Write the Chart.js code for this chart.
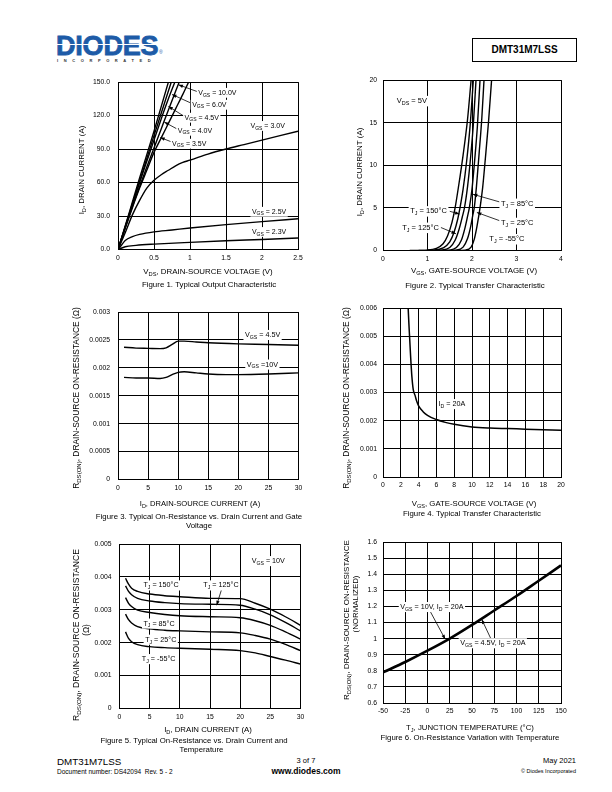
<!DOCTYPE html>
<html><head><meta charset="utf-8">
<script src="https://cdn.jsdelivr.net/npm/chart.js@4.4.1/dist/chart.umd.min.js"></script>
<style>
html,body{margin:0;padding:0;background:#fff;}
body{width:612px;height:792px;position:relative;overflow:hidden;font-family:"Liberation Sans",Arial,sans-serif;color:#000;}
.abs{position:absolute;white-space:nowrap;}
canvas{position:absolute;}
</style></head><body>

<!-- header -->
<div class="abs" style="left:56px;top:33px;font:bold 27px/27px 'Liberation Sans';color:#1d5ba7;letter-spacing:-0.2px;-webkit-text-stroke:0.8px #1d5ba7;">DIODES</div>
<div class="abs" style="left:56px;top:44px;width:104px;height:1px;background:#fff;"></div>
<div class="abs" style="left:159px;top:50px;font:5px/5px 'Liberation Sans';color:#1d5ba7;">&#174;</div>
<div class="abs" style="left:57px;top:58px;font:bold 4px/5px 'Liberation Sans';color:#333;letter-spacing:5.6px;">INCORPORATED</div>
<div class="abs" style="left:472px;top:38px;width:105px;height:24px;box-sizing:border-box;border:1px solid #000;font:bold 10px/22px 'Liberation Sans';text-align:center;">DMT31M7LSS</div>

<canvas id="c1"></canvas>
<canvas id="c2"></canvas>
<canvas id="c3"></canvas>
<canvas id="c4"></canvas>
<canvas id="c5"></canvas>
<canvas id="c6"></canvas>

<!-- footer -->
<div class="abs" style="left:57px;top:756px;font:9.8px/12px 'Liberation Sans';">DMT31M7LSS</div>
<div class="abs" style="left:57px;top:768px;font:6.5px/8px 'Liberation Sans';">Document number: DS42094&nbsp; Rev. 5 - 2</div>
<div class="abs" style="left:256px;width:100px;top:756px;text-align:center;font:7.5px/10px 'Liberation Sans';">3 of 7</div>
<div class="abs" style="left:256px;width:100px;top:766px;text-align:center;font:bold 8.5px/10px 'Liberation Sans';">www.diodes.com</div>
<div class="abs" style="left:476px;width:100px;top:756px;text-align:right;font:7.5px/10px 'Liberation Sans';">May 2021</div>
<div class="abs" style="left:476px;width:100px;top:767px;text-align:right;font:5.5px/8px 'Liberation Sans';">&#169; Diodes Incorporated</div>

<script>
// ================= DATA =================
// Figure 1: Typical Output Characteristic (x: VDS [V], y: ID [A])
const f1XTicks = [0, 0.5, 1, 1.5, 2, 2.5];
const f1XTickLabels = ['0', '0.5', '1', '1.5', '2', '2.5'];
const f1YTicks = [0, 30, 60, 90, 120, 150];
const f1YTickLabels = ['0.0', '30.0', '60.0', '90.0', '120.0', '150.0'];
const f1Vgs10X = [0, 0.1, 0.2, 0.3, 0.4, 0.5, 0.6, 0.7];
const f1Vgs10Y = [0, 21, 42.5, 64, 85, 106, 128, 150];
const f1Vgs6X = [0, 0.1, 0.2, 0.3, 0.4, 0.5, 0.6, 0.74];
const f1Vgs6Y = [0, 20.5, 41, 61, 81.5, 102, 122, 150];
const f1Vgs45X = [0, 0.1, 0.2, 0.3, 0.4, 0.5, 0.6, 0.7, 0.79];
const f1Vgs45Y = [0, 20, 40, 60, 79, 98, 117, 135, 150];
const f1Vgs4X = [0, 0.1, 0.2, 0.3, 0.4, 0.5, 0.6, 0.7, 0.85];
const f1Vgs4Y = [0, 19.5, 38.5, 56.5, 74, 91, 108, 125, 150];
const f1Vgs35X = [0, 0.1, 0.2, 0.3, 0.4, 0.5, 0.6, 0.7, 0.8, 0.9, 0.98];
const f1Vgs35Y = [0, 19, 37.5, 55, 71, 87, 100, 113, 126, 139, 150];
const f1Vgs3X = [0, 0.1, 0.2, 0.3, 0.4, 0.5, 0.6, 0.7, 0.8, 0.9, 1.0, 1.25, 1.5, 1.75, 2, 2.25, 2.5];
const f1Vgs3Y = [0, 15, 31, 44, 55, 62, 67, 71, 75, 78, 80, 85.5, 90, 94, 98, 102, 106];
const f1Vgs25X = [0, 0.05, 0.1, 0.2, 0.3, 0.5, 0.75, 1, 1.5, 2, 2.5];
const f1Vgs25Y = [0, 4, 8, 11.5, 13.5, 15.8, 17.5, 19.3, 22.3, 25, 27.5];
const f1Vgs23X = [0, 0.1, 0.25, 0.5, 1, 1.5, 2, 2.5];
const f1Vgs23Y = [0, 2.5, 3.7, 4.8, 6.4, 7.8, 9, 10.3];

// Figure 2: Typical Transfer Characteristic (x: VGS [V], y: ID [A])
const f2XTicks = [0, 1, 2, 3, 4];
const f2XTickLabels = ['0', '1', '2', '3', '4'];
const f2YTicks = [0, 5, 10, 15, 20];
const f2YTickLabels = ['0', '5', '10', '15', '20'];
const f2T150X = [0.6, 1.0, 1.2, 1.35, 1.45, 1.55, 1.62, 1.7, 1.8, 1.9, 1.98];
const f2T150Y = [0, 0.05, 0.25, 0.8, 1.7, 3.3, 5, 7.6, 11.2, 15.4, 20];
const f2T125X = [0.8, 1.15, 1.35, 1.5, 1.6, 1.68, 1.73, 1.8, 1.88, 1.96, 2.03];
const f2T125Y = [0, 0.05, 0.3, 1.0, 2.2, 3.7, 5, 7.2, 10.5, 14.8, 20];
const f2T85X = [1.0, 1.3, 1.5, 1.62, 1.71, 1.78, 1.83, 1.9, 1.97, 2.03, 2.09];
const f2T85Y = [0, 0.05, 0.35, 1.2, 2.5, 3.9, 5, 7.5, 11, 14.8, 20];
const f2T25X = [1.2, 1.5, 1.65, 1.76, 1.84, 1.9, 1.94, 2.0, 2.06, 2.12, 2.18];
const f2T25Y = [0, 0.05, 0.35, 1.2, 2.6, 4.0, 5, 7.2, 10.6, 14.5, 20];
const f2T0X = [1.4, 1.65, 1.8, 1.9, 1.97, 2.02, 2.05, 2.1, 2.16, 2.22, 2.27];
const f2T0Y = [0, 0.05, 0.4, 1.4, 2.8, 4.2, 5, 7.5, 11.4, 15.5, 20];
const f2Tm55X = [1.6, 1.85, 1.98, 2.05, 2.1, 2.15, 2.18, 2.24, 2.3, 2.37, 2.44];
const f2Tm55Y = [0, 0.05, 0.4, 1.3, 2.5, 4.0, 5, 7.4, 10.8, 15, 20];

// Figure 3: On-Resistance vs Drain Current and Gate Voltage (x: ID [A], y: RDS(ON) [ohm])
const f3XTicks = [0, 5, 10, 15, 20, 25, 30];
const f3XTickLabels = ['0', '5', '10', '15', '20', '25', '30'];
const f3YTicks = [0, 0.0005, 0.001, 0.0015, 0.002, 0.0025, 0.003];
const f3YTickLabels = ['0', '0.0005', '0.001', '0.0015', '0.002', '0.0025', '0.003'];
const f3Vgs45X = [1, 3, 5, 7, 8, 9, 10, 11, 13, 15, 20, 25, 30];
const f3Vgs45Y = [0.00237, 0.002355, 0.00235, 0.002345, 0.00236, 0.00242, 0.00248, 0.00248, 0.002465, 0.00245, 0.00243, 0.00242, 0.002405];
const f3Vgs10X = [1, 3, 5, 7, 8, 9, 10, 11, 13, 15, 18, 20, 25, 30];
const f3Vgs10Y = [0.00183, 0.00182, 0.00182, 0.00181, 0.00183, 0.00188, 0.00192, 0.00193, 0.00191, 0.00189, 0.00188, 0.00188, 0.00189, 0.00191];

// Figure 4: On-Resistance vs Gate Voltage (x: VGS [V], y: RDS(ON) [ohm])
const f4XTicks = [0, 2, 4, 6, 8, 10, 12, 14, 16, 18, 20];
const f4XTickLabels = ['0', '2', '4', '6', '8', '10', '12', '14', '16', '18', '20'];
const f4YTicks = [0, 0.001, 0.002, 0.003, 0.004, 0.005, 0.006];
const f4YTickLabels = ['0', '0.001', '0.002', '0.003', '0.004', '0.005', '0.006'];
const f4Id20X = [2.8, 2.9, 3.0, 3.1, 3.25, 3.4, 3.6, 3.8, 4.0, 4.5, 5, 6, 7, 8, 10, 12, 14, 16, 18, 20];
const f4Id20Y = [0.0062, 0.0055, 0.0049, 0.0043, 0.00355, 0.0031, 0.0029, 0.00268, 0.00253, 0.00232, 0.00219, 0.00204, 0.00194, 0.00187, 0.00178, 0.00174, 0.00172, 0.0017, 0.00168, 0.00166];

// Figure 5: On-Resistance vs Drain Current and Temperature (x: ID [A], y: RDS(ON) [ohm])
const f5XTicks = [0, 5, 10, 15, 20, 25, 30];
const f5XTickLabels = ['0', '5', '10', '15', '20', '25', '30'];
const f5YTicks = [0, 0.001, 0.002, 0.003, 0.004, 0.005];
const f5YTickLabels = ['0', '0.001', '0.002', '0.003', '0.004', '0.005'];
const f5IdX = [1, 1.5, 2, 3, 5, 7.5, 10, 15, 20, 22.5, 25, 27.5, 30];
const f5T150Y = [0.00396, 0.00378, 0.00366, 0.00356, 0.00348, 0.00343, 0.0034, 0.00335, 0.00334, 0.0032, 0.00302, 0.00279, 0.00253];
const f5T125Y = [0.00373, 0.00356, 0.00346, 0.00335, 0.00327, 0.00322, 0.00319, 0.00317, 0.00314, 0.00302, 0.00285, 0.00262, 0.00236];
const f5T85Y = [0.00337, 0.0032, 0.0031, 0.00299, 0.00292, 0.00286, 0.00282, 0.00279, 0.00276, 0.00267, 0.00253, 0.00233, 0.00211];
const f5T25Y = [0.00287, 0.0027, 0.0026, 0.00249, 0.00242, 0.00238, 0.00236, 0.00233, 0.0023, 0.00222, 0.00211, 0.00195, 0.00176];
const f5Tm55Y = [0.00233, 0.00213, 0.00203, 0.00194, 0.00188, 0.00185, 0.00183, 0.0018, 0.00176, 0.00169, 0.00158, 0.00147, 0.00135];

// Figure 6: On-Resistance Variation with Temperature (x: TJ [degC], y: normalized RDS(ON))
const f6XTicks = [-50, -25, 0, 25, 50, 75, 100, 125, 150];
const f6XTickLabels = ['-50', '-25', '0', '25', '50', '75', '100', '125', '150'];
const f6YTicks = [0.6, 0.7, 0.8, 0.9, 1.0, 1.1, 1.2, 1.3, 1.4, 1.5, 1.6];
const f6YTickLabels = ['0.6', '0.7', '0.8', '0.9', '1', '1.1', '1.2', '1.3', '1.4', '1.5', '1.6'];
const f6TempX = [-50, -25, 0, 25, 50, 75, 100, 125, 150];
const f6NormY = [0.79, 0.855, 0.925, 1.0, 1.085, 1.175, 1.265, 1.36, 1.455];

// ================= DRAWING HELPERS =================
const FONT = '"Liberation Sans", Arial, sans-serif';

function parseRich(s) {
  const parts = []; const re = /_\{([^}]*)\}/g; let last = 0, m;
  while ((m = re.exec(s))) {
    if (m.index > last) parts.push([s.slice(last, m.index), 0]);
    parts.push([m[1], 1]); last = re.lastIndex;
  }
  if (last < s.length) parts.push([s.slice(last), 0]);
  return parts;
}
function drawRich(ctx, s, x, y, size, align, bg) {
  const parts = parseRich(s);
  let w = 0;
  for (const p of parts) { ctx.font = (p[1] ? size * 0.72 : size) + 'px ' + FONT; w += ctx.measureText(p[0]).width; }
  let cx = align === 'center' ? x - w / 2 : (align === 'right' ? x - w : x);
  if (bg) { ctx.fillStyle = '#fff'; ctx.fillRect(cx - 1.5, y - size * 0.62, w + 3, size * 1.4); }
  ctx.fillStyle = '#000'; ctx.textBaseline = 'alphabetic'; ctx.textAlign = 'left';
  const base = y + size * 0.36;
  for (const p of parts) {
    const fs = p[1] ? size * 0.72 : size;
    ctx.font = fs + 'px ' + FONT;
    ctx.fillText(p[0], cx, base + (p[1] ? size * 0.25 : 0));
    cx += ctx.measureText(p[0]).width;
  }
}
function drawArrow(ctx, x0, y0, x1, y1) {
  ctx.strokeStyle = '#000'; ctx.lineWidth = 0.8;
  ctx.beginPath(); ctx.moveTo(x0, y0); ctx.lineTo(x1, y1); ctx.stroke();
  const a = Math.atan2(y1 - y0, x1 - x0), L = 4.5, W = 1.7;
  ctx.beginPath(); ctx.moveTo(x1, y1);
  ctx.lineTo(x1 - L * Math.cos(a) + W * Math.sin(a), y1 - L * Math.sin(a) - W * Math.cos(a));
  ctx.lineTo(x1 - L * Math.cos(a) - W * Math.sin(a), y1 - L * Math.sin(a) + W * Math.cos(a));
  ctx.closePath(); ctx.fillStyle = '#000'; ctx.fill();
}

const decor = {
  id: 'decor',
  afterDraw(chart, args, opts) {
    const ctx = chart.ctx, xs = chart.scales.x, ys = chart.scales.y;
    const box = opts.box;
    ctx.save();
    (opts.notes || []).forEach(n => {
      if (n.arrow) drawArrow(ctx, xs.getPixelForValue(n.arrow[0]), ys.getPixelForValue(n.arrow[1]),
        xs.getPixelForValue(n.arrow[2]), ys.getPixelForValue(n.arrow[3]));
    });
    (opts.notes || []).forEach(n => {
      drawRich(ctx, n.t, xs.getPixelForValue(n.x), ys.getPixelForValue(n.y), opts.noteSize || 7.2, n.align || 'left', n.bg !== false);
    });
    (opts.titles || []).forEach(t => {
      ctx.save();
      ctx.translate(t.x - box.l, t.y - box.t);
      if (t.rot) ctx.rotate(-Math.PI / 2);
      drawRich(ctx, t.t, 0, 0, t.size, 'center', false);
      ctx.restore();
    });
    ctx.restore();
  }
};

function series(xArr, yArr, width) {
  return {
    data: xArr.map((x, i) => ({ x: x, y: yArr[i] })),
    borderColor: '#000', borderWidth: width || 1.4, pointRadius: 0,
    cubicInterpolationMode: 'monotone', fill: false
  };
}

function build(id, box, plot, xt, xtl, yt, ytl, datasets, decorOpts) {
  const cv = document.getElementById(id);
  cv.style.left = box.l + 'px'; cv.style.top = box.t + 'px';
  cv.width = box.w; cv.height = box.h;
  cv.style.width = box.w + 'px'; cv.style.height = box.h + 'px';
  decorOpts.box = box;
  const tickFont = { family: FONT, size: 6.8 };
  new Chart(cv, {
    type: 'line',
    data: { datasets: datasets },
    options: {
      responsive: false, animation: false, devicePixelRatio: 1,
      layout: { padding: { left: 0, bottom: 0, top: plot.t - box.t, right: box.l + box.w - plot.r } },
      plugins: { legend: { display: false }, tooltip: { enabled: false }, decor: decorOpts },
      scales: {
        x: {
          type: 'linear', min: xt[0], max: xt[xt.length - 1],
          afterBuildTicks: s => { s.ticks = xt.map(v => ({ value: v })); },
          afterFit: s => { s.height = box.t + box.h - plot.b; },
          ticks: { autoSkip: false, maxRotation: 0, minRotation: 0, padding: 4.5, color: '#000', font: tickFont, callback: (v, i) => xtl[i] },
          grid: { color: '#000', lineWidth: 1, drawTicks: false },
          border: { color: '#000', width: 1 }
        },
        y: {
          type: 'linear', min: yt[0], max: yt[yt.length - 1],
          afterBuildTicks: s => { s.ticks = yt.map(v => ({ value: v })); },
          afterFit: s => { s.width = plot.l - box.l; },
          ticks: { autoSkip: false, padding: plot.tp || 7, color: '#000', font: tickFont, callback: (v, i) => ytl[i] },
          grid: { color: '#000', lineWidth: 1, drawTicks: false },
          border: { color: '#000', width: 1 }
        }
      }
    },
    plugins: [decor]
  });
}

// ================= CHARTS =================
build('c1', { l: 40, t: 70, w: 270, h: 225 }, { l: 118, t: 77, r: 298, b: 249.5, tp: 8 },
  f1XTicks, f1XTickLabels, f1YTicks, f1YTickLabels,
  [series(f1Vgs10X, f1Vgs10Y), series(f1Vgs6X, f1Vgs6Y), series(f1Vgs45X, f1Vgs45Y), series(f1Vgs4X, f1Vgs4Y),
   series(f1Vgs35X, f1Vgs35Y), series(f1Vgs3X, f1Vgs3Y), series(f1Vgs25X, f1Vgs25Y), series(f1Vgs23X, f1Vgs23Y)],
  {
    noteSize: 7,
    notes: [
      { t: 'V_{GS} = 10.0V', x: 1.115, y: 140.9, arrow: [1.1, 141.5, 0.84, 147.6] },
      { t: 'V_{GS} = 6.0V', x: 1.03, y: 130.2, arrow: [1.02, 131, 0.75, 138.9] },
      { t: 'V_{GS} = 4.5V', x: 0.925, y: 118.6, arrow: [0.915, 119.5, 0.70, 128.2] },
      { t: 'V_{GS} = 4.0V', x: 0.83, y: 106.9, arrow: [0.82, 108, 0.643, 114.2] },
      { t: 'V_{GS} = 3.5V', x: 0.75, y: 95.3, arrow: [0.74, 96.5, 0.587, 100.3] },
      { t: 'V_{GS} = 3.0V', x: 1.84, y: 111.2 },
      { t: 'V_{GS} = 2.5V', x: 1.86, y: 34.3 },
      { t: 'V_{GS} = 2.3V', x: 1.86, y: 16.2 }
    ],
    titles: [
      { t: 'I_{D}, DRAIN CURRENT (A)', x: 81, y: 170, size: 7.9, rot: true },
      { t: 'V_{DS}, DRAIN-SOURCE VOLTAGE (V)', x: 208, y: 271, size: 7.9 },
      { t: 'Figure 1. Typical Output Characteristic', x: 209, y: 284.5, size: 7.9 }
    ]
  });

build('c2', { l: 322, t: 70, w: 260, h: 225 }, { l: 383, t: 77, r: 561, b: 250.5, tp: 6 },
  f2XTicks, f2XTickLabels, f2YTicks, f2YTickLabels,
  [series(f2T150X, f2T150Y), series(f2T125X, f2T125Y), series(f2T85X, f2T85Y),
   series(f2T25X, f2T25Y), series(f2T0X, f2T0Y), series(f2Tm55X, f2Tm55Y)],
  {
    noteSize: 7.5,
    notes: [
      { t: 'V_{DS} = 5V', x: 0.31, y: 17.6 },
      { t: 'T_{J} = 150°C', x: 0.61, y: 4.66, arrow: [1.5, 4.6, 1.72, 4.28] },
      { t: 'T_{J} = 125°C', x: 0.43, y: 2.73, arrow: [1.3, 2.7, 1.64, 1.96] },
      { t: 'T_{J} = 85°C', x: 2.65, y: 5.55, arrow: [2.62, 5.7, 2.02, 6.6] },
      { t: 'T_{J} = 25°C', x: 2.65, y: 3.3, arrow: [2.62, 3.5, 2.11, 4.46] },
      { t: 'T_{J} = -55°C', x: 2.39, y: 1.39 }
    ],
    titles: [
      { t: 'I_{D}, DRAIN CURRENT (A)', x: 359.5, y: 172, size: 7.9, rot: true },
      { t: 'V_{GS}, GATE-SOURCE VOLTAGE (V)', x: 474, y: 270, size: 7.9 },
      { t: 'Figure 2. Typical Transfer Characteristic', x: 475, y: 285, size: 7.9 }
    ]
  });

build('c3', { l: 40, t: 300, w: 270, h: 232 }, { l: 118, t: 309, r: 298.5, b: 479.5, tp: 8 },
  f3XTicks, f3XTickLabels, f3YTicks, f3YTickLabels,
  [series(f3Vgs45X, f3Vgs45Y), series(f3Vgs10X, f3Vgs10Y)],
  {
    notes: [
      { t: 'V_{GS} = 4.5V', x: 21.1, y: 0.0026 },
      { t: 'V_{GS} =10V', x: 21.4, y: 0.00207 }
    ],
    titles: [
      { t: 'R_{DS(ON)}, DRAIN-SOURCE ON-RESISTANCE (Ω)', x: 76, y: 398, size: 8.4, rot: true },
      { t: 'I_{D}, DRAIN-SOURCE CURRENT (A)', x: 200, y: 503.5, size: 7.6 },
      { t: 'Figure 3. Typical On-Resistance vs. Drain Current and Gate', x: 199, y: 516, size: 7.8 },
      { t: 'Voltage', x: 199, y: 525.5, size: 7.8 }
    ]
  });

build('c4', { l: 322, t: 298, w: 260, h: 222 }, { l: 383, t: 306, r: 561, b: 477, tp: 6 },
  f4XTicks, f4XTickLabels, f4YTicks, f4YTickLabels,
  [series(f4Id20X, f4Id20Y, 1.5)],
  {
    notes: [{ t: 'I_{D} = 20A', x: 6.24, y: 0.00261 }],
    titles: [
      { t: 'R_{DS(ON)}, DRAIN-SOURCE ON-RESISTANCE (Ω)', x: 346, y: 398, size: 8.4, rot: true },
      { t: 'V_{GS}, GATE-SOURCE VOLTAGE (V)', x: 474, y: 503.5, size: 7.8 },
      { t: 'Figure 4. Typical Transfer Characteristic', x: 472, y: 513.5, size: 7.8 }
    ]
  });

build('c5', { l: 40, t: 532, w: 270, h: 222 }, { l: 119.5, t: 540, r: 300.5, b: 708.5, tp: 8 },
  f5XTicks, f5XTickLabels, f5YTicks, f5YTickLabels,
  [series(f5IdX, f5T150Y), series(f5IdX, f5T125Y), series(f5IdX, f5T85Y), series(f5IdX, f5T25Y), series(f5IdX, f5Tm55Y)],
  {
    notes: [
      { t: 'V_{GS} = 10V', x: 21.9, y: 0.0045 },
      { t: 'T_{J} = 150°C', x: 3.97, y: 0.00376 },
      { t: 'T_{J} = 125°C', x: 13.9, y: 0.00376, arrow: [16.9, 0.00361, 16.1, 0.00314] },
      { t: 'T_{J} = 85°C', x: 3.97, y: 0.0026 },
      { t: 'T_{J} = 25°C', x: 4.25, y: 0.00211 },
      { t: 'T_{J} = -55°C', x: 3.7, y: 0.00152 }
    ],
    titles: [
      { t: 'R_{DS(ON)}, DRAIN-SOURCE ON-RESISTANCE', x: 76, y: 635, size: 8.6, rot: true },
      { t: '(Ω)', x: 86, y: 630, size: 8.2, rot: true },
      { t: 'I_{D}, DRAIN CURRENT (A)', x: 208, y: 729.5, size: 7.8 },
      { t: 'Figure 5. Typical On-Resistance vs. Drain Current and', x: 194, y: 740, size: 7.8 },
      { t: 'Temperature', x: 201.5, y: 749.5, size: 7.8 }
    ]
  });

build('c6', { l: 322, t: 532, w: 260, h: 212 }, { l: 383, t: 540, r: 561, b: 703, tp: 6 },
  f6XTicks, f6XTickLabels, f6YTicks, f6YTickLabels,
  [series(f6TempX, f6NormY, 2.6)],
  {
    notes: [
      { t: 'V_{GS} = 10V, I_{D} = 20A', x: -30.6, y: 1.2, arrow: [3, 1.17, 19.9, 0.996] },
      { t: 'V_{GS} = 4.5V, I_{D} = 20A', x: 36.7, y: 0.975, arrow: [72, 0.99, 61, 1.119] }
    ],
    titles: [
      { t: 'R_{DS(ON)}, DRAIN-SOURCE ON-RESISTANCE', x: 346, y: 620, size: 8, rot: true },
      { t: '(NORMALIZED)', x: 355.5, y: 604, size: 7.9, rot: true },
      { t: 'T_{J}, JUNCTION TEMPERATURE (°C)', x: 470, y: 727.5, size: 7.8 },
      { t: 'Figure 6. On-Resistance Variation with Temperature', x: 470, y: 737.5, size: 7.8 }
    ]
  });
</script>
</body></html>
